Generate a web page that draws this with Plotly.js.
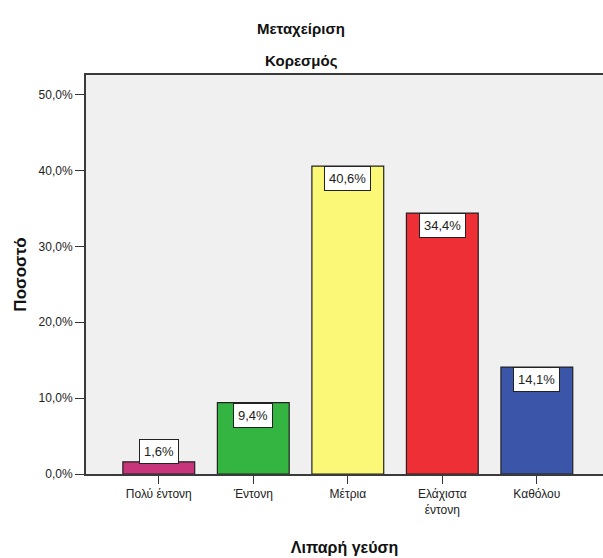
<!DOCTYPE html>
<html><head><meta charset="utf-8">
<script src="https://cdn.plot.ly/plotly-3.0.1.min.js"></script>
<style>html,body{margin:0;padding:0;background:#fff}#chart{width:603px;height:558px}</style>
</head><body><div id="chart"></div>
<script>
const categories = ["Πολύ έντονη", "Έντονη", "Μέτρια", "Ελάχιστα<br>έντονη", "Καθόλου"];
const values = [1.6, 9.4, 40.6, 34.4, 14.1];
const valueLabels = ["1,6%", "9,4%", "40,6%", "34,4%", "14,1%"];
const barColors = ["#c7357a", "#34b441", "#fbf877", "#ee2f35", "#3b55a9"];
const yTickVals = [0, 10, 20, 30, 40, 50];
const yTickText = ["0,0%", "10,0%", "20,0%", "30,0%", "40,0%", "50,0%"];
const titleLine1 = "Μεταχείριση";
const titleLine2 = "Κορεσμός";
const xTitle = "Λιπαρή γεύση";
const yTitle = "Ποσοστό";

const FONT = "Liberation Sans, Arial, sans-serif";
const xIdx = categories.map((_, i) => i);

const trace = {
  type: "bar",
  x: xIdx,
  y: values,
  width: 0.76,
  marker: {color: barColors, line: {color: "#222", width: 1.2}},
  hoverinfo: "skip"
};

const annotations = values.map((v, i) => ({
  x: i, y: v, xref: "x", yref: "y",
  text: valueLabels[i], showarrow: false,
  yanchor: "top", xanchor: "center",
  yshift: v < 4 ? 23 : 0,
  bgcolor: "#ffffff", bordercolor: "#222", borderwidth: 1, borderpad: 4,
  font: {family: FONT, size: 13, color: "#222"}
}));
annotations.push({
  text: "<b>" + titleLine1 + "</b>", xref: "paper", yref: "paper",
  x: 0.416, y: 1, yshift: 47, showarrow: false, xanchor: "center", yanchor: "middle",
  font: {family: FONT, size: 15, color: "#111"}
});
annotations.push({
  text: "<b>" + titleLine2 + "</b>", xref: "paper", yref: "paper",
  x: 0.416, y: 1, yshift: 15, showarrow: false, xanchor: "center", yanchor: "middle",
  font: {family: FONT, size: 15, color: "#111"}
});

const layout = {
  width: 603, height: 558,
  margin: {l: 86, r: 0, t: 75, b: 84, pad: 0},
  paper_bgcolor: "#ffffff",
  plot_bgcolor: "#f0f0f0",
  showlegend: false,
  font: {family: FONT, size: 12, color: "#222"},
  xaxis: {
    range: [-0.77, 4.70],
    tickmode: "array", tickvals: xIdx, ticktext: categories,
    ticks: "outside", ticklen: 8, tickwidth: 1, tickcolor: "#333",
    showline: true, linecolor: "#3a3a3a", linewidth: 2, mirror: true,
    showgrid: false, zeroline: false, fixedrange: true,
    tickfont: {family: FONT, size: 12, color: "#222"},
    title: {text: "<b>" + xTitle + "</b>", font: {family: FONT, size: 16, color: "#111"}, standoff: 26}
  },
  yaxis: {
    range: [0, 52.6],
    tickmode: "array", tickvals: yTickVals, ticktext: yTickText,
    ticks: "outside", ticklen: 9, tickwidth: 1, tickcolor: "#333",
    showline: true, linecolor: "#3a3a3a", linewidth: 2,
    showgrid: false, zeroline: false, fixedrange: true,
    tickfont: {family: FONT, size: 12, color: "#222"},
    title: {text: "<b>" + yTitle + "</b>", font: {family: FONT, size: 17, color: "#111"}, standoff: 8}
  },
  annotations: annotations
};

Plotly.newPlot("chart", [trace], layout, {displayModeBar: false, staticPlot: true});
</script>
</body></html>
